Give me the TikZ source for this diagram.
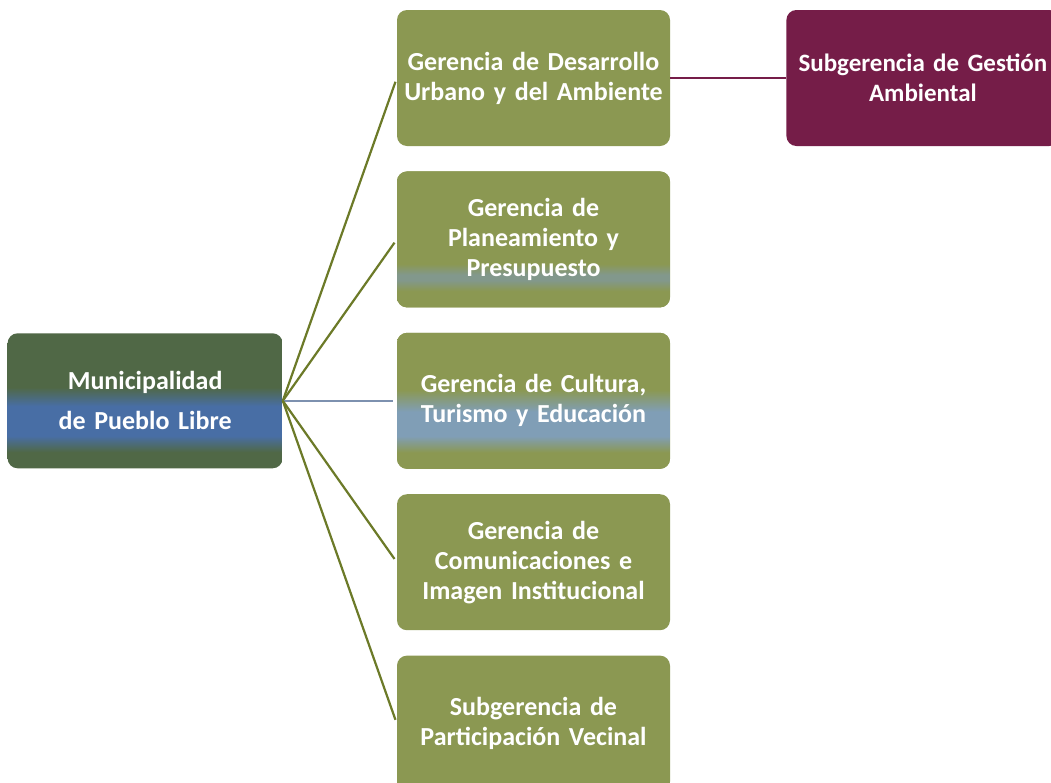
\documentclass[tikz,border=0pt]{standalone}
\usepackage{fontspec}
\setmainfont[WordSpace=0.7]{Carlito}
\usetikzlibrary{positioning}

\definecolor{rootgreen}{RGB}{80,104,70}
\definecolor{rootblue}{RGB}{72,110,165}
\definecolor{boxgreen}{RGB}{139,152,82}
\definecolor{boxblue}{RGB}{128,158,182}
\definecolor{boxhaze}{RGB}{130,152,140}
\definecolor{subpurple}{RGB}{117,29,72}
\definecolor{linkolive}{RGB}{108,122,40}
\definecolor{linkblue}{RGB}{125,145,175}

% scanner bands across the boxes
\pgfdeclareverticalshading{rootband}{100bp}{color(0bp)=(rootgreen); color(31bp)=(rootgreen); color(37bp)=(rootblue); color(48bp)=(rootblue); color(55bp)=(rootgreen); color(100bp)=(rootgreen)}
\pgfdeclareverticalshading{cultband}{100bp}{color(0bp)=(boxgreen); color(31bp)=(boxgreen); color(37bp)=(boxblue); color(46bp)=(boxblue); color(54bp)=(boxgreen); color(100bp)=(boxgreen)}
\pgfdeclareverticalshading{planband}{100bp}{color(0bp)=(boxgreen); color(31bp)=(boxgreen); color(35bp)=(boxhaze); color(37bp)=(boxhaze); color(41bp)=(boxgreen); color(100bp)=(boxgreen)}

\begin{document}
\begin{tikzpicture}[x=1pt, y=1pt,
  box/.style={rounded corners=10pt, minimum width=273pt, minimum height=136pt, inner sep=0pt,
    text width=266pt, align=center, text=white, font=\bfseries\fontsize{26}{30}\selectfont},
  gbox/.style={box, fill=boxgreen},
  link/.style={line width=2.2pt, linkolive, shorten >=4pt},
  node distance=25pt
]
\useasboundingbox (0,0) rectangle (1051,-782);
\clip (0,0) rectangle (1051,-782);
\fill[white] (0,0) rectangle (1051,-782);

\node[gbox] (urbano) at (533.5,-78) {Gerencia de Desarrollo\\Urbano y del Ambiente};
\node[gbox, shading=planband, below=of urbano] (plan) {Gerencia de\\Planeamiento y\\Presupuesto};
\node[gbox, shading=cultband, below=of plan] (cultura) {Gerencia de Cultura,\\Turismo y Educaci\'on};
\node[gbox, below=of cultura] (comunic) {Gerencia de\\Comunicaciones e\\Imagen Institucional};
\node[gbox, below=of comunic] (vecinal) {Subgerencia de\\Participaci\'on Vecinal};

\node[box, minimum width=275pt, minimum height=135pt, shading=rootband,
  font=\bfseries\fontsize{26}{40}\selectfont, left=114pt of cultura] (muni) {Municipalidad\\de Pueblo Libre};

\node[box, fill=subpurple, font=\bfseries\fontsize{25}{30}\selectfont, right=116pt of urbano] (ambiental) {Subgerencia de Gesti\'on\\Ambiental};

\draw[link] (muni.east) -- (urbano.west);
\draw[link] (muni.east) -- (plan.west);
\draw[link, linkblue] (muni.east) -- (cultura.west);
\draw[link] (muni.east) -- (comunic.west);
\draw[link] (muni.east) -- (vecinal.west);

\draw[line width=2.6pt, subpurple] (urbano.east) -- (ambiental.west);
\end{tikzpicture}
\end{document}
